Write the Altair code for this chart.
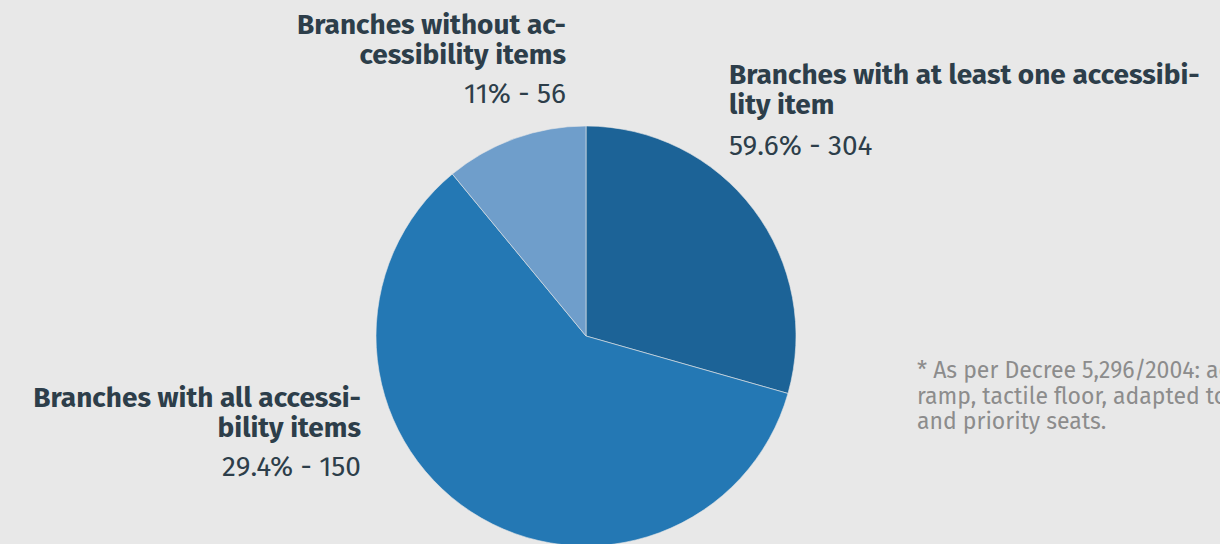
import altair as alt
import pandas as pd

# ---- data ----
categories = [
    "Branches with all accessibility items",
    "Branches with at least one accessibility item",
    "Branches without accessibility items",
]
label_lines = [
    "Branches with all accessi-\nbility items",
    "Branches with at least one accessibi-\nlity item",
    "Branches without ac-\ncessibility items",
]
counts = [150, 304, 56]
slice_order = [0, 1, 2]
colors = ["#1c6397", "#2478b4", "#6f9ecb"]
footnote_lines = [
    "* As per Decree 5,296/2004: access",
    "ramp, tactile floor, adapted toilets",
    "and priority seats.",
]

df = pd.DataFrame({
    "category": categories,
    "label": label_lines,
    "count": counts,
    "order": slice_order,
})

FONT = "Fira Sans, Lato, Noto Sans, sans-serif"
TEXT_COLOR = "#2d3e4a"

base = alt.Chart(df).transform_joinaggregate(
    total="sum(count)"
).transform_calculate(
    value_text="format(datum.count / datum.total * 100, '.3~') + '% - ' + datum.count"
)

color_scale = alt.Scale(domain=categories, range=colors)

pie = base.mark_arc(outerRadius=210, stroke="#e8e8e8", strokeWidth=0.6).encode(
    theta=alt.Theta("count:Q", stack=True),
    order=alt.Order("order:Q"),
    color=alt.Color("category:N", scale=color_scale, legend=None),
    x=alt.value(586),
    y=alt.value(336),
)

# label placement per category (layout only)
placements = {
    categories[0]: dict(x=361, y=407, align="right", vy=476),
    categories[1]: dict(x=729, y=84, align="left", vy=155),
    categories[2]: dict(x=566, y=34, align="right", vy=103),
}

layers = [pie]
for cat, p in placements.items():
    sub = base.transform_filter(alt.datum.category == cat)
    layers.append(
        sub.mark_text(
            align=p["align"], baseline="alphabetic", font=FONT, fontSize=28,
            fontWeight="bold", lineBreak="\n", lineHeight=30, color=TEXT_COLOR,
        ).encode(text="label:N", x=alt.value(p["x"]), y=alt.value(p["y"]))
    )
    layers.append(
        sub.mark_text(
            align=p["align"], baseline="alphabetic", font=FONT, fontSize=28,
            fontWeight="normal", color=TEXT_COLOR,
        ).encode(text="value_text:N", x=alt.value(p["x"]), y=alt.value(p["vy"]))
    )

foot = alt.Chart(df).transform_filter(alt.datum.order == 0).mark_text(
    text=footnote_lines, align="left", baseline="alphabetic", font=FONT,
    fontSize=23, lineHeight=25.5, color="#8c8c8c",
).encode(x=alt.value(917), y=alt.value(378))
layers.append(foot)

chart = alt.layer(*layers).properties(
    width=1220, height=544, padding=0, background="#e8e8e8",
    autosize=alt.AutoSizeParams(type="none"),
).configure_view(stroke=None)

chart.save("out.html", embed_options={"renderer": "svg", "actions": False})
